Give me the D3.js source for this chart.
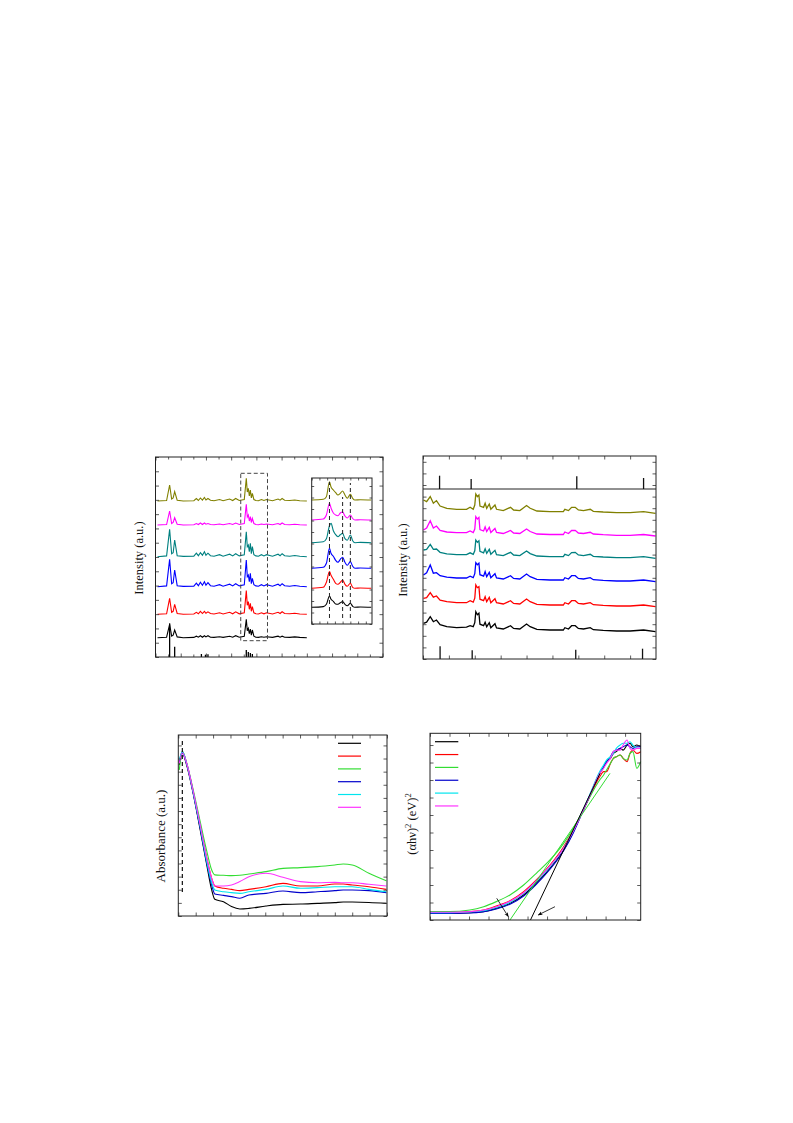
<!DOCTYPE html>
<html><head><meta charset="utf-8">
<script src="https://cdn.jsdelivr.net/npm/d3@7/dist/d3.min.js"></script>
<style>body{margin:0;background:#fff}svg{display:block}text{font-family:"Liberation Serif","Times New Roman",serif}</style>
</head><body>
<svg id="c" width="793" height="1123"></svg>
<script>
// ---------------- Panel 1 (XRD, offset patterns) ----------------
const p1Theta = [10.4,12.2,12.8,13.2,13.5,13.8,14.3,15.5,17.6,18.1,18.5,18.9,19.3,19.7,20.0,20.4,20.9,21.6,22.7,23.4,24.7,25.3,25.9,26.6,27.6,28.0,28.2,28.4,28.6,28.8,29.0,29.2,29.5,29.9,30.4,31.0,31.5,32.0,33.2,34.3,34.7,35.1,35.6,36.6,37.6,38.6,40.0];
const p1Black   = [0,0.5,13.3,1.5,2.5,7.7,0.8,0,0.3,1.5,0.5,2,0.5,2,0.8,2,0.5,0.3,1,0.3,1.5,0.5,2,0.5,1.5,18.3,7,9.3,4,8.7,2.5,7.7,1.5,0.5,0.3,1,0.5,1,0.3,1.5,0.5,1.5,0.5,0.3,0.8,0.3,0];
const p1Red     = [0,0.5,16,2,3,10,0.8,0,0.3,2,0.5,3,0.8,3,1,2.5,0.8,0.3,1.5,0.3,2,0.5,2.5,0.5,1.5,23.7,9,12.7,5,11,3,7.7,1.5,0.5,0.3,1.5,0.5,1.5,0.3,2,0.8,2.5,0.8,0.5,1,0.3,0];
const p1Blue    = [0,0.8,27.3,3,4,16.7,1,0.3,0.5,3.5,1,4.5,1.5,5,1.5,4,1,0.5,2,0.5,2.5,0.8,3,0.8,2,26.7,10,11.7,5,13.3,3,8.3,2,0.8,0.5,2,0.8,2,0.5,2.5,1,3,1,0.5,1.2,0.5,0];
const p1Teal    = [0,0.8,27.3,3,4,16.7,1,0.3,0.5,3.5,1,4,1.5,5,1.5,3.5,1,0.5,2,0.5,2.5,0.8,3,0.8,2,25,10,11.7,5,13.3,3,10,2,0.8,0.5,2,0.8,2,0.5,2.5,1,3,1,0.5,1.2,0.5,0];
const p1Magenta = [0,0.5,14,1.5,2.5,7.3,0.8,0,0.3,1.5,0.5,2,0.5,2,0.8,1.5,0.5,0.3,1,0.3,1.5,0.5,2,0.5,1.5,20.7,8,10,4,8.3,2.5,6.7,1.5,0.5,0.3,1,0.5,1,0.3,1.5,0.5,2,0.5,0.3,0.8,0.3,0];
const p1Olive   = [0,0.5,16,2,3,9.3,0.8,0,0.3,2.5,0.5,3,0.8,3.5,1,2.5,0.8,0.3,1.5,0.3,2,0.5,2.5,0.5,1.5,22.7,9,12.7,5,11,3,7.7,1.5,0.5,0.3,1.5,0.5,1.5,0.3,2,0.8,2.5,0.8,0.5,1,0.3,0];
const p1Offsets = [19.3,42.7,70.3,100.3,132,156];
const p1Sticks = [[12.8,33.7],[13.8,10.3],[19.1,3],[19.9,2.3],[20.4,2.7],[28.0,7],[28.4,5],[28.8,4],[29.2,3]];
const p1Box = [[26.9,16.3],[32.2,183.7]];
// inset
const inTheta = [26.85,27.6,27.8,28.0,28.1,28.25,28.4,28.55,28.7,28.85,29.0,29.15,29.35,29.5,29.65,30.0,30.7];
const inBlack   = [0,0.7,3,11.3,8,6,3.3,3,4.5,5.7,3,1.5,4,1,0,0.3,0];
const inRed     = [0,1,6,16.7,13,9,5,4,6,8.3,4,2,5,1,0,0.3,0];
const inBlue    = [0,1,5,20,15,12,8,6,9,11,6,3,6.7,2,0,0.3,0];
const inTeal    = [0,1,4,17,19.3,12,8,6,8,9.3,4,2.5,7.7,2,0,0.3,0];
const inMagenta = [0,1,5,16.7,12,7,5,4.3,7,8,4,2,5,1.5,0,0.3,0];
const inOlive   = [0,0.7,3.3,18.3,13,10,7.3,5,6.7,9,5,1.7,5.7,1.7,0,0.3,0];
const inOffsets = [16.7,35.7,55.7,81.3,104,124];
const inDash = [[28.0,6,142],[28.85,6,127],[29.35,6,141]];

// ---------------- Panel 2 (XRD with reference sticks) ----------------
const p2Theta = [5.1,5.7,6.4,7.0,7.6,8.3,9.6,11.5,13.4,14.1,14.7,15.0,15.2,15.5,15.8,16.0,16.7,17.0,17.3,17.8,18.1,18.9,19.2,20.5,21.9,22.5,23.7,25.0,25.7,27.0,29.5,32.1,32.4,33.1,33.7,34.4,35.0,36.0,37.3,37.9,39.8,42.4,45.0,47.6,49.9];
const p2Black   = [8.3,9.5,15,10,11.7,7,5,4,4.5,6,5,9,20,17,18.5,7.5,6,9.5,5,9,4,8,3.7,2.7,6,3.3,2.7,7.7,5,2.3,1.7,1.7,4,2.7,6,6,3.3,2.7,4,2,1.3,0.7,0.7,1.7,0];
const p2Red     = [8.3,9,14,9.5,10.7,6.5,5,4,4,6,4.5,8.5,21.7,19,20,7.5,6,10,5,9.3,4,8,4,2.7,6,3.3,2.7,7.7,5,2.3,1.7,1.7,4,2.7,6,6,3.3,2.7,4,2,1.3,0.7,0.7,1.7,0];
const p2Blue    = [6.7,9,16.7,8.5,9,6,4.5,3.7,3.7,5.5,4,8,19,17,18.5,7,5.5,10,5,9.3,4,8,3.7,2.7,6,3.3,2.7,7.7,5,2.3,1.7,1.7,4,2.7,6,6,3.3,2.7,4,2,1.3,0.7,0.7,1.7,0];
const p2Teal    = [8.3,9,14,9,9.3,6,4.5,3.7,3.7,5.5,4,7.5,18.3,16,17.5,7,5.5,9.5,5,9,4,8,3.7,2.7,6,3.3,2.7,7.3,4.7,2.3,1.7,1.7,4,2.7,5.7,6,3.3,2.7,4,2,1.3,0.7,0.7,1.7,0];
const p2Magenta = [6,8,15.3,8,10,5.5,4,3.3,3.3,5,3.5,7,19.3,17,18.5,6.5,5,9,4.5,8.7,3.5,7.5,3.5,2.5,5.5,3,2.5,7,4.5,2,1.5,1.5,4,2.5,5.5,5.7,3,2.5,3.7,2,1.3,0.7,0.7,1.5,0];
const p2Olive   = [13.3,11.7,16.7,10,12.7,7.3,5,4,4,6,4,8.3,19.3,16.7,18.3,7.3,6,10,5,9.3,4,8.3,4,2.7,6,3.3,2.7,7.7,5,2.3,1.7,1.7,4,2.7,6,6,3.3,2.7,4,2,1.3,0.7,0.7,1.7,0];
const p2Offsets = [27.3,52.3,77.3,100.7,123,145.7];
const p2TopSticks = [[8.2,13.3],[14.3,10],[34.7,12.7],[47.6,11]];
const p2BotSticks = [[8.3,12.7],[14.5,8.7],[34.5,9.3],[47.4,10.3]];
const p2Split = 170;

// ---------------- Panel 3 (UV-vis absorbance) ----------------
const p3Wave = [203,211.6,224,243,262,281,296,305,330,353,377,403,452,501,551,600,650,674,700,748,798];
const p3Black   = [0.834,0.899,0.834,0.674,0.485,0.291,0.144,0.092,0.079,0.052,0.039,0.042,0.055,0.064,0.066,0.070,0.074,0.077,0.077,0.075,0.070];
const p3Red     = [0.853,0.908,0.844,0.687,0.512,0.328,0.208,0.166,0.153,0.147,0.140,0.147,0.162,0.180,0.166,0.166,0.177,0.177,0.171,0.162,0.147];
const p3Green   = [0.807,0.908,0.844,0.696,0.530,0.365,0.254,0.227,0.225,0.223,0.225,0.232,0.245,0.263,0.267,0.273,0.282,0.287,0.282,0.236,0.195];
const p3Blue    = [0.853,0.902,0.840,0.678,0.494,0.300,0.171,0.122,0.114,0.107,0.098,0.116,0.125,0.138,0.129,0.134,0.140,0.144,0.144,0.140,0.129];
const p3Cyan    = [0.862,0.908,0.844,0.681,0.503,0.309,0.184,0.144,0.134,0.129,0.125,0.134,0.147,0.166,0.153,0.157,0.162,0.162,0.162,0.147,0.134];
const p3Magenta = [0.844,0.902,0.844,0.687,0.512,0.328,0.208,0.166,0.166,0.171,0.190,0.217,0.236,0.214,0.190,0.184,0.186,0.184,0.184,0.175,0.166];
const p3Dash = [211.6,0.133,0.972];

// ---------------- Panel 4 (Tauc plot) ----------------
const p4Ev = [2.0,2.2,2.41,2.55,2.68,2.82,2.96,3.09,3.23,3.37,3.47,3.54,3.64,3.74,3.78,3.81,3.85,3.88,3.91,3.95,3.98,4.02,4.05,4.08,4.12,4.16];
const p4Black   = [0.38,0.38,0.42,0.48,0.67,0.95,1.43,2.10,2.95,4.0,5.05,5.90,7.14,8.38,8.72,9.05,9.24,9.52,9.62,9.81,9.71,10.0,10.1,9.90,10.0,9.90];
const p4Red     = [0.42,0.42,0.48,0.57,0.80,1.10,1.62,2.29,3.14,4.19,5.14,5.90,7.09,8.19,8.48,8.48,8.95,9.24,9.33,9.43,9.24,9.05,9.52,9.71,9.52,9.62];
const p4Green   = [0.48,0.48,0.57,0.76,1.05,1.43,2.0,2.67,3.43,4.38,5.24,5.94,7.05,8.0,8.29,8.57,8.95,9.24,9.33,9.43,9.24,9.14,9.52,9.62,8.67,9.05];
const p4Blue    = [0.38,0.38,0.40,0.48,0.63,0.90,1.37,2.04,2.90,3.96,4.99,5.87,7.14,8.42,8.76,9.05,9.33,9.62,9.71,9.81,9.90,10.0,9.90,9.81,9.90,9.90];
const p4Cyan    = [0.42,0.42,0.46,0.53,0.72,1.01,1.52,2.19,3.05,4.10,5.10,5.94,7.20,8.48,8.86,9.14,9.33,9.52,9.81,10.0,10.1,10.1,10.19,10.0,9.81,9.81];
const p4Magenta = [0.44,0.44,0.48,0.57,0.76,1.07,1.56,2.25,3.09,4.10,5.10,5.90,7.14,8.38,8.67,8.95,9.24,9.62,9.71,9.71,10.0,10.29,9.81,9.71,9.81,9.81];
const p4Tangents = [{c:"#33dd33", p:[[2.82,0],[3.845,8.38]]},{c:"#000", p:[[3.03,0],[3.743,8.38]]}];
const p4Arrows = [[[2.684,1.24],[2.803,0.19]],[[3.281,0.76],[3.110,0.29]]];

const xrdColors = ["#000000","#ff0000","#0000ff","#008080","#ff00ff","#808000"];
const uvColors  = ["#000000","#ff0000","#33dd33","#0000cc","#00e5ee","#ff33ff"];

// ================= drawing =================
const svg = d3.select("#c");
function axes(g, x, y, o){
  const [x0,x1]=x.range(), [yb,yt]=y.range();
  const mk=(fn, sc, vals, size, tr)=>{
    const a=g.append("g").attr("transform",tr)
      .call(fn(sc).tickValues(vals).tickSize(size).tickSizeOuter(0).tickFormat(""));
    a.select(".domain").remove();
    a.selectAll("line").attr("stroke","#333").attr("stroke-width",0.8);
  };
  if(o.xt){ mk(d3.axisBottom,x,o.xt,-(o.tl||3.5),`translate(0,${yb})`); if(o.top!==false) mk(d3.axisTop,x,o.xt,-(o.tl||3.5),`translate(0,${yt})`);}
  if(o.xm){ mk(d3.axisBottom,x,o.xm,-(o.ts||2),`translate(0,${yb})`); if(o.top!==false) mk(d3.axisTop,x,o.xm,-(o.ts||2),`translate(0,${yt})`);}
  if(o.yt){ mk(d3.axisLeft,y,o.yt,-(o.tl||3.5),`translate(${x0},0)`); mk(d3.axisRight,y,o.yt,-(o.tl||3.5),`translate(${x1},0)`);}
  g.append("rect").attr("x",x0).attr("y",yt).attr("width",x1-x0).attr("height",yb-yt)
    .attr("fill","none").attr("stroke","#222").attr("stroke-width",1);
}
function ylabel(g, txt, x, y, size){
  return g.append("text").attr("transform",`translate(${x},${y}) rotate(-90)`)
    .attr("text-anchor","middle").attr("font-size",size).attr("fill","#111").text(txt);
}
const range=(a,b,s)=>{const r=[];for(let v=a;v<=b+1e-9;v+=s)r.push(+v.toFixed(4));return r;};

// ---- Panel 1
{
  const g=svg.append("g");
  const x=d3.scaleLinear().domain([10,55.1]).range([155.5,383]);
  const y=d3.scaleLinear().domain([0,200]).range([657,457]);
  const series=[p1Black,p1Red,p1Blue,p1Teal,p1Magenta,p1Olive];
  const line=d3.line().x(d=>x(d[0])).y(d=>y(d[1]));
  series.forEach((s,i)=>{
    g.append("path").attr("d",line(p1Theta.map((t,k)=>[t,s[k]+p1Offsets[i]])))
      .attr("fill","none").attr("stroke",xrdColors[i]).attr("stroke-width",1.1);
  });
  g.selectAll(".stk").data(p1Sticks).join("line")
    .attr("x1",d=>x(d[0])).attr("x2",d=>x(d[0])).attr("y1",y(0)).attr("y2",d=>y(d[1]))
    .attr("stroke","#000").attr("stroke-width",1.3);
  g.append("rect").attr("x",x(p1Box[0][0])).attr("y",y(p1Box[1][1]))
    .attr("width",x(p1Box[1][0])-x(p1Box[0][0])).attr("height",y(p1Box[0][1])-y(p1Box[1][1]))
    .attr("fill","none").attr("stroke","#444").attr("stroke-width",1).attr("stroke-dasharray","4,2.5");
  axes(g,x,y,{xt:range(10,55,5),xm:range(12.5,52.5,5),yt:range(0,200,200/14),tl:3.5,ts:2.5});
  ylabel(g,"Intensity (a.u.)",143,558,12.5);

  // inset
  const gi=svg.append("g");
  const xi=d3.scaleLinear().domain([26.85,30.75]).range([311.7,372]);
  const yi=d3.scaleLinear().domain([0,146]).range([624,478]);
  gi.append("rect").attr("x",311.7).attr("y",478).attr("width",60.3).attr("height",146).attr("fill","#fff");
  const li=d3.line().x(d=>xi(d[0])).y(d=>yi(d[1])).curve(d3.curveMonotoneX);
  [inBlack,inRed,inBlue,inTeal,inMagenta,inOlive].forEach((s,i)=>{
    gi.append("path").attr("d",li(inTheta.map((t,k)=>[t,s[k]+inOffsets[i]])))
      .attr("fill","none").attr("stroke",xrdColors[i]).attr("stroke-width",1.1);
  });
  gi.selectAll(".dsh").data(inDash).join("line")
    .attr("x1",d=>xi(d[0])).attr("x2",d=>xi(d[0])).attr("y1",d=>yi(d[1])).attr("y2",d=>yi(d[2]))
    .attr("stroke","#222").attr("stroke-width",1).attr("stroke-dasharray","4,3");
  axes(gi,xi,yi,{xt:range(26.85,30.75,0.5),yt:range(0,146,11.5),tl:2.5});
}

// ---- Panel 2
{
  const g=svg.append("g");
  const x=d3.scaleLinear().domain([5,50]).range([423,656]);
  const y=d3.scaleLinear().domain([0,203]).range([659,456]);
  const series=[p2Black,p2Red,p2Blue,p2Teal,p2Magenta,p2Olive];
  const line=d3.line().x(d=>x(d[0])).y(d=>y(d[1]));
  series.forEach((s,i)=>{
    g.append("path").attr("d",line(p2Theta.map((t,k)=>[t,s[k]+p2Offsets[i]])))
      .attr("fill","none").attr("stroke",xrdColors[i]).attr("stroke-width",1.3);
  });
  g.append("line").attr("x1",x(5)).attr("x2",x(50)).attr("y1",y(p2Split)).attr("y2",y(p2Split)).attr("stroke","#222").attr("stroke-width",1);
  g.selectAll(".ts").data(p2TopSticks).join("line")
    .attr("x1",d=>x(d[0])).attr("x2",d=>x(d[0])).attr("y1",y(p2Split)).attr("y2",d=>y(p2Split+d[1]))
    .attr("stroke","#111").attr("stroke-width",1.3);
  g.selectAll(".bs").data(p2BotSticks).join("line")
    .attr("x1",d=>x(d[0])).attr("x2",d=>x(d[0])).attr("y1",y(0)).attr("y2",d=>y(d[1]))
    .attr("stroke","#111").attr("stroke-width",1.3);
  axes(g,x,y,{xt:range(5,50,10),xm:range(10,45,10),yt:range(0,203,11.6),tl:3.5,ts:3.5});
  ylabel(g,"Intensity (a.u.)",407,560,12.5);
}

// ---- Panel 3
{
  const g=svg.append("g");
  const x=d3.scaleLinear().domain([200,800]).range([178.3,387]);
  const y=d3.scaleLinear().domain([0,1]).range([916,735]);
  const series=[p3Black,p3Red,p3Green,p3Blue,p3Cyan,p3Magenta];
  const line=d3.line().x(d=>x(d[0])).y(d=>y(d[1])).curve(d3.curveMonotoneX);
  series.forEach((s,i)=>{
    g.append("path").attr("d",line(p3Wave.map((t,k)=>[t,s[k]])))
      .attr("fill","none").attr("stroke",uvColors[i]).attr("stroke-width",1.1);
  });
  g.append("line").attr("x1",x(p3Dash[0])).attr("x2",x(p3Dash[0])).attr("y1",y(p3Dash[1])).attr("y2",y(p3Dash[2]))
    .attr("stroke","#111").attr("stroke-width",1.2).attr("stroke-dasharray","4,3");
  uvColors.forEach((c,i)=>{
    g.append("line").attr("x1",338).attr("x2",361).attr("y1",743.3+i*12.8).attr("y2",743.3+i*12.8)
      .attr("stroke",c).attr("stroke-width",1.2);
  });
  axes(g,x,y,{xt:range(200,800,100),xm:range(250,750,100),yt:range(0,1,0.0725),tl:3.5,ts:3.5});
  ylabel(g,"Absorbance (a.u.)",165,836,13);
}

// ---- Panel 4
{
  const g=svg.append("g");
  const x=d3.scaleLinear().domain([2.0,4.16]).range([430,640.7]);
  const y=d3.scaleLinear().domain([0,10.67]).range([920,733.3]);
  const series=[p4Black,p4Red,p4Green,p4Blue,p4Cyan,p4Magenta];
  const line=d3.line().x(d=>x(d[0])).y(d=>y(d[1])).curve(d3.curveMonotoneX);
  series.forEach((s,i)=>{
    g.append("path").attr("d",line(p4Ev.map((t,k)=>[t,s[k]])))
      .attr("fill","none").attr("stroke",uvColors[i]).attr("stroke-width",1.1);
  });
  p4Tangents.forEach(t=>{
    g.append("line").attr("x1",x(t.p[0][0])).attr("y1",y(t.p[0][1])).attr("x2",x(t.p[1][0])).attr("y2",y(t.p[1][1]))
      .attr("stroke",t.c).attr("stroke-width",1);
  });
  svg.append("defs").append("marker").attr("id","ah").attr("viewBox","0 0 10 10").attr("refX",9).attr("refY",5)
    .attr("markerWidth",6).attr("markerHeight",6).attr("orient","auto")
    .append("path").attr("d","M0,1 L10,5 L0,9 L3,5 Z").attr("fill","#000");
  p4Arrows.forEach(a=>{
    g.append("line").attr("x1",x(a[0][0])).attr("y1",y(a[0][1])).attr("x2",x(a[1][0])).attr("y2",y(a[1][1]))
      .attr("stroke","#000").attr("stroke-width",0.8).attr("marker-end","url(#ah)");
  });
  uvColors.forEach((c,i)=>{
    g.append("line").attr("x1",435).attr("x2",458.3).attr("y1",741.7+i*12.85).attr("y2",741.7+i*12.85)
      .attr("stroke",c).attr("stroke-width",1.2);
  });
  axes(g,x,y,{xt:range(2.0,4.16,0.2),yt:range(0,10.67,1),tl:3.5});
  const t=g.append("text").attr("transform","translate(416,824) rotate(-90)").attr("text-anchor","middle")
    .attr("font-size",12.5).attr("fill","#111");
  t.append("tspan").text("(\u03b1h\u03bd)");
  t.append("tspan").attr("dy",-5).attr("font-size",8.5).text("2");
  t.append("tspan").attr("dy",5).text(" (eV)");
  t.append("tspan").attr("dy",-5).attr("font-size",8.5).text("2");
}
</script>
</body></html>
